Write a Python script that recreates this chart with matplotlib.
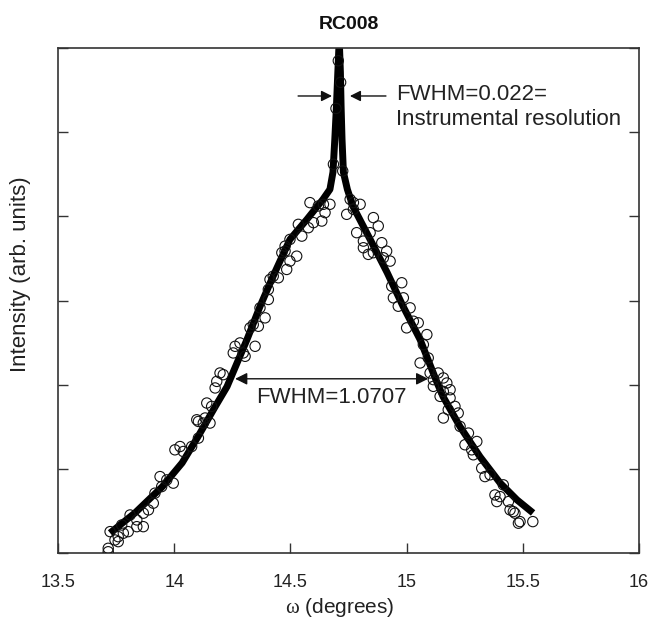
import numpy as np
import matplotlib
matplotlib.use('Agg')
import matplotlib.pyplot as plt

# 字体设置
matplotlib.rcParams['font.family'] = ['Liberation Sans', 'DejaVu Sans']
matplotlib.rcParams['mathtext.fontset'] = 'custom'
matplotlib.rcParams['mathtext.it'] = 'Liberation Serif'
matplotlib.rcParams['mathtext.rm'] = 'Liberation Serif'

# 测量点 (omega, intensity)
omega_data = [
    13.716, 13.716, 13.724, 13.745, 13.759, 13.759, 13.774, 13.781, 13.802, 13.810,
    13.839, 13.839, 13.867, 13.867, 13.889, 13.910, 13.917, 13.939, 13.946, 13.968,
    13.996, 14.003, 14.025, 14.039, 14.075, 14.097, 14.104, 14.104, 14.125, 14.133,
    14.140, 14.154, 14.161, 14.176, 14.183, 14.197, 14.211, 14.254, 14.262, 14.283,
    14.297, 14.305, 14.326, 14.340, 14.348, 14.362, 14.369, 14.391, 14.405, 14.405,
    14.412, 14.426, 14.448, 14.463, 14.477, 14.477, 14.484, 14.498, 14.498, 14.527,
    14.534, 14.549, 14.577, 14.584, 14.599, 14.620, 14.635, 14.642, 14.649, 14.670,
    14.685, 14.696, 14.706, 14.716, 14.725,
    14.742, 14.757, 14.771, 14.771, 14.785, 14.800, 14.814, 14.814, 14.835, 14.843,
    14.857, 14.857, 14.878, 14.893, 14.900, 14.914, 14.929, 14.936, 14.943, 14.964,
    14.979, 14.986, 15.000, 15.015, 15.029, 15.050, 15.058, 15.072, 15.087, 15.093,
    15.101, 15.115, 15.115, 15.136, 15.144, 15.158, 15.158, 15.158, 15.173, 15.179,
    15.187, 15.187, 15.208, 15.222, 15.230, 15.251, 15.266, 15.280, 15.287, 15.302,
    15.323, 15.337, 15.359, 15.380, 15.388, 15.402, 15.416, 15.438, 15.445, 15.459,
    15.466, 15.481, 15.488, 15.543,
]
intensity_data = [
    0.015, 0.056, 0.254, 0.155, 0.194, 0.135, 0.333, 0.235, 0.254, 0.452,
    0.393, 0.313, 0.473, 0.313, 0.512, 0.592, 0.711, 0.908, 0.789, 0.869,
    0.830, 1.226, 1.265, 1.206, 1.265, 1.583, 1.563, 1.365, 1.544, 1.604,
    1.782, 1.544, 1.742, 1.961, 2.039, 2.139, 2.119, 2.377, 2.456, 2.496,
    2.377, 2.337, 2.675, 2.714, 2.456, 2.694, 2.913, 2.794, 3.131, 3.012,
    3.250, 3.289, 3.270, 3.568, 3.646, 3.587, 3.369, 3.726, 3.468, 3.527,
    3.905, 3.765, 3.865, 4.163, 3.925, 4.123, 3.944, 4.143, 4.044, 4.143,
    4.619, 5.282, 5.849, 5.592, 4.539,
    4.024, 4.202, 4.163, 4.083, 3.806, 4.143, 3.706, 3.627, 3.548, 3.806,
    3.985, 3.568, 3.885, 3.687, 3.508, 3.587, 3.468, 3.170, 3.032, 2.932,
    3.211, 3.032, 2.675, 2.913, 2.754, 2.735, 2.258, 2.476, 2.595, 2.318,
    2.139, 2.060, 1.980, 2.139, 1.861, 2.080, 1.920, 1.604, 2.020, 1.702,
    1.940, 1.842, 1.742, 1.663, 1.504, 1.286, 1.425, 1.226, 1.167, 1.325,
    1.008, 0.908, 0.929, 0.690, 0.611, 0.670, 0.810, 0.611, 0.512, 0.492,
    0.473, 0.354, 0.373, 0.373,
]

# 拟合曲线
omega_fit = [
    13.724, 13.831, 13.948, 14.034, 14.102, 14.176, 14.227, 14.313, 14.369, 14.425,
    14.498, 14.571, 14.640, 14.670, 14.683, 14.691, 14.698, 14.704, 14.710,
    14.715, 14.718, 14.722, 14.728, 14.745, 14.769, 14.843, 14.916, 14.985, 15.058,
    15.131, 15.157, 15.230, 15.316, 15.402, 15.475, 15.544,
]
intensity_fit = [
    0.238, 0.476, 0.786, 1.071, 1.381, 1.738, 1.976, 2.536, 2.929, 3.286,
    3.726, 3.964, 4.202, 4.321, 4.524, 4.917, 5.310, 5.714, 6.100,
    5.714, 5.310, 4.917, 4.524, 4.321, 4.119, 3.726, 3.333, 2.929, 2.536,
    2.024, 1.857, 1.500, 1.143, 0.833, 0.631, 0.476,
]

x_ticks = [13.5, 14, 14.5, 15, 15.5, 16]
x_tick_labels = ['13.5', '14', '14.5', '15', '15.5', '16']
y_ticks = [0, 1, 2, 3, 4, 5, 6]

# 半高宽标注位置
broad_fwhm = (14.262, 15.093, 2.07)
narrow_left = (14.533, 14.679)
narrow_right = (14.911, 14.756)
narrow_y = 5.43

fig = plt.figure(figsize=(6.52, 6.26), dpi=100)
ax = fig.add_axes([0.0890, 0.1166, 0.8911, 0.8067])

spine_c = '#333333'
ax.plot(omega_fit, intensity_fit, color='black', lw=5, solid_capstyle='butt',
        solid_joinstyle='round', zorder=2)
ax.scatter(omega_data, intensity_data, s=55, facecolors='none', edgecolors='#111111',
           linewidths=0.8, zorder=3)

ax.set_xlim(13.5, 16)
ax.set_ylim(0, 6)
ax.set_xticks(x_ticks)
ax.set_xticklabels(x_tick_labels)
ax.set_yticks(y_ticks)
ax.set_yticklabels([])
ax.tick_params(axis='both', direction='in', length=7, width=1.0, color=spine_c,
               labelsize=13, labelcolor='#222222', pad=15)
ax.tick_params(axis='y', right=True)
for s in ax.spines.values():
    s.set_color(spine_c)
    s.set_linewidth(1.2)

ax.set_title('RC008', fontsize=14, fontweight='bold', color='#111111', pad=14)
ax.set_ylabel('Intensity (arb. units)', fontsize=16, color='#222222')
ax.yaxis.set_label_coords(-0.047, 0.552)
ax.set_xlabel(r'$\omega$ (degrees)', fontsize=15, color='#222222')
ax.xaxis.set_label_coords(0.485, -0.085)

# 宽峰 FWHM
ax.annotate('', xy=(broad_fwhm[0], broad_fwhm[2]), xytext=(broad_fwhm[1], broad_fwhm[2]),
            arrowprops=dict(arrowstyle='<|-|>', color='#111111', lw=1.0,
                            mutation_scale=18, shrinkA=0, shrinkB=0), zorder=4)
ax.text((broad_fwhm[0] + broad_fwhm[1]) / 2, 1.845, 'FWHM=1.0707', fontsize=16,
        ha='center', va='center', color='#222222')

# 窄峰 FWHM
ax.annotate('', xy=(narrow_left[1], narrow_y), xytext=(narrow_left[0], narrow_y),
            arrowprops=dict(arrowstyle='-|>', color='#111111', lw=1.0,
                            mutation_scale=16, shrinkA=0, shrinkB=0), zorder=4)
ax.annotate('', xy=(narrow_right[1], narrow_y), xytext=(narrow_right[0], narrow_y),
            arrowprops=dict(arrowstyle='-|>', color='#111111', lw=1.0,
                            mutation_scale=16, shrinkA=0, shrinkB=0), zorder=4)
ax.text(14.955, 5.45, 'FWHM=0.022=', fontsize=16, ha='left', va='center', color='#222222')
ax.text(14.955, 5.15, 'Instrumental resolution', fontsize=16, ha='left', va='center',
        color='#222222')

plt.savefig('out.png', dpi=100)
plt.close()
